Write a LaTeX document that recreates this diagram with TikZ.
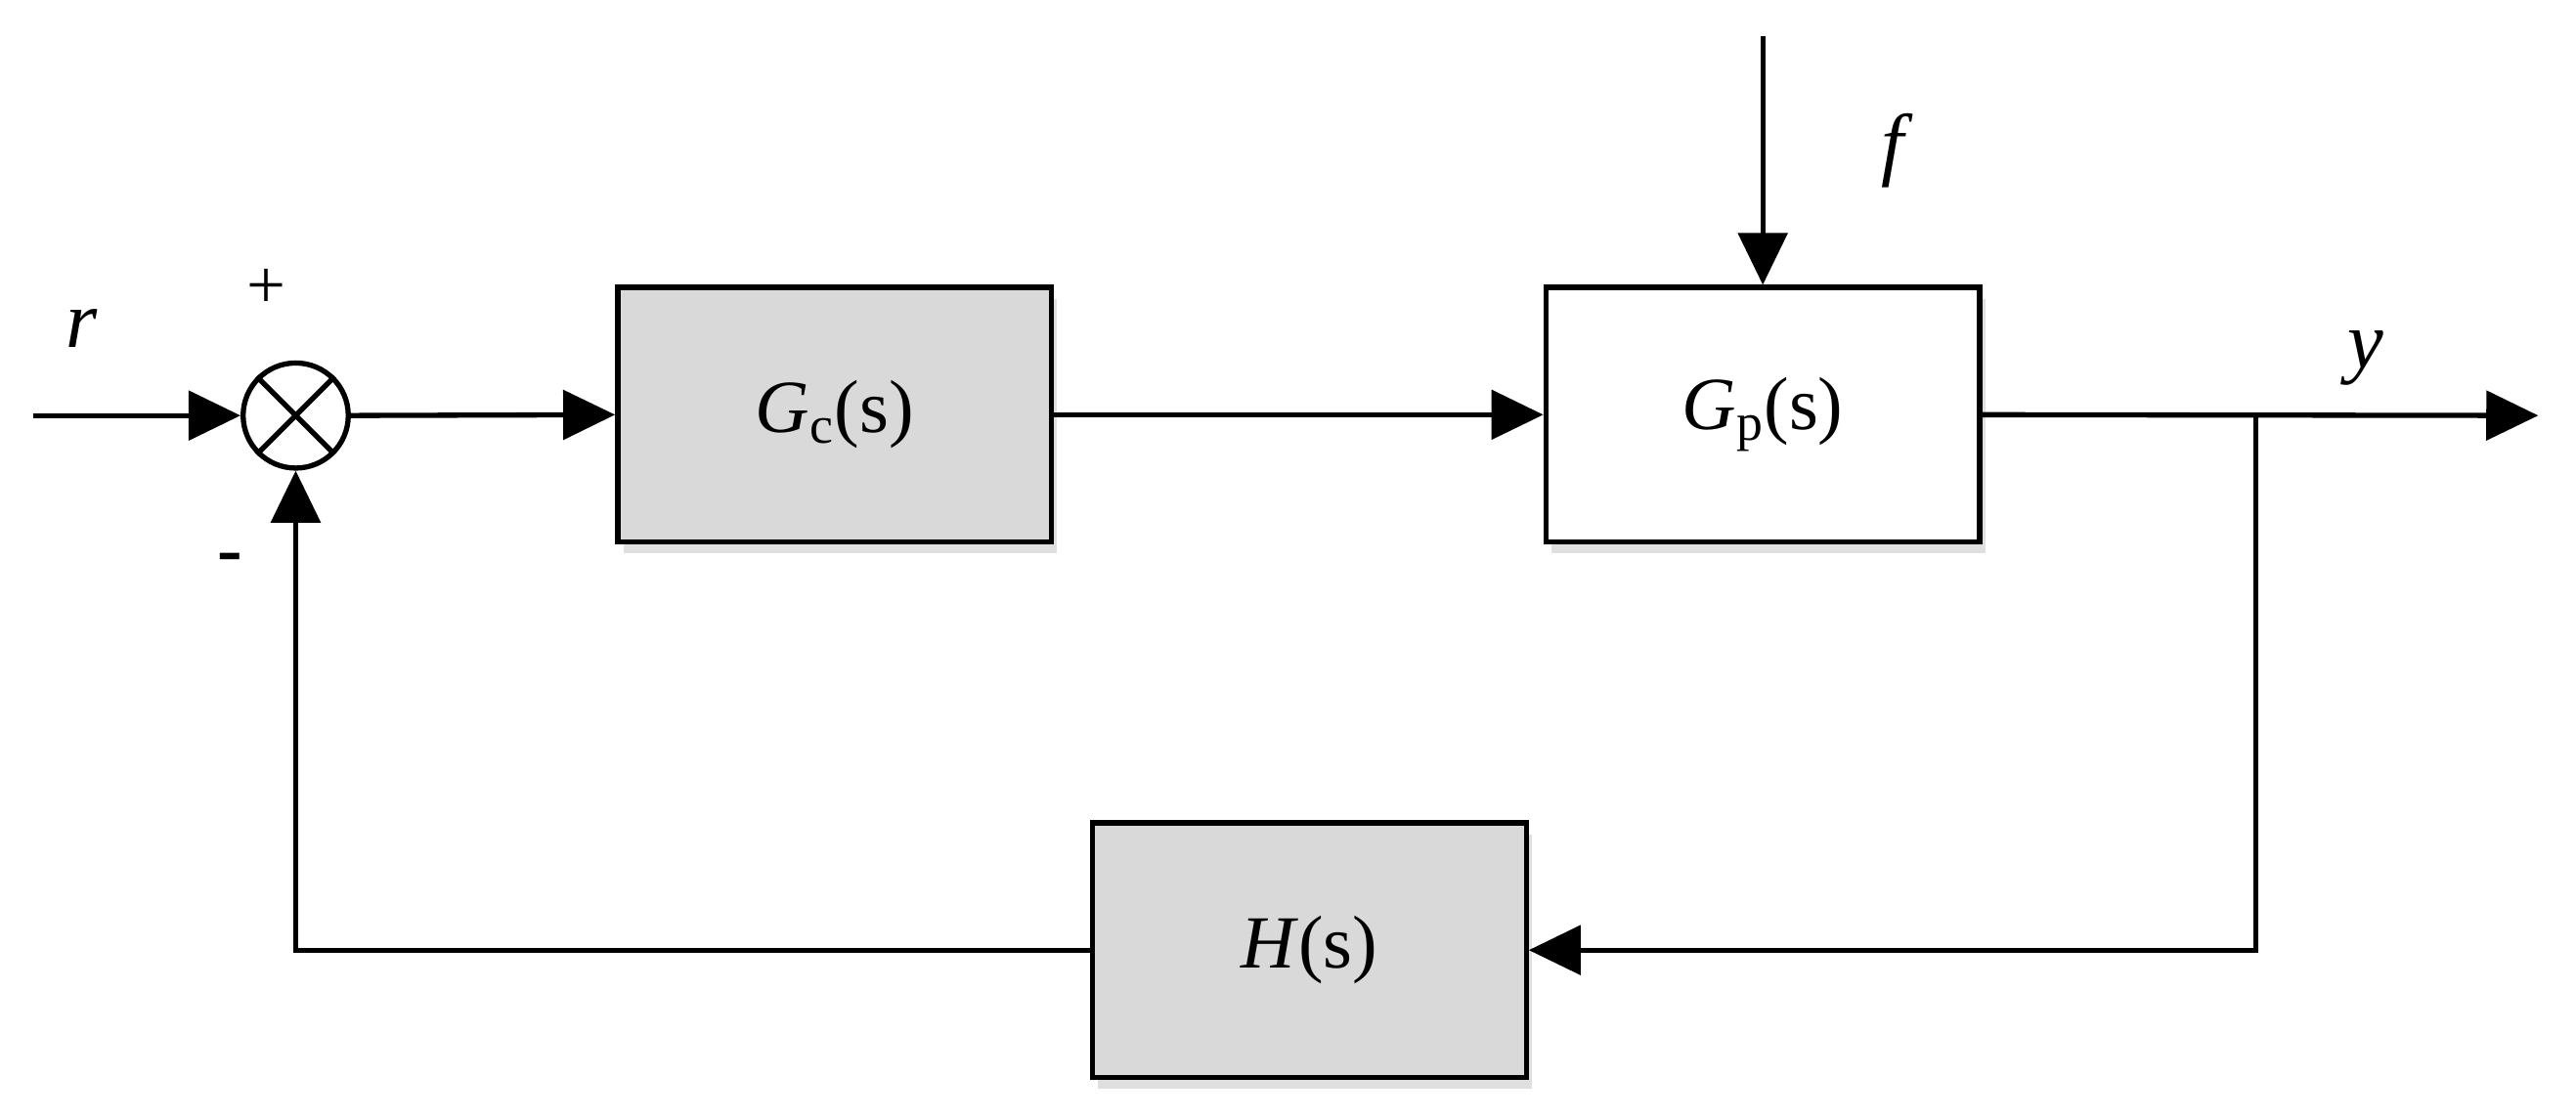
\documentclass[tikz,border=0pt]{standalone}
\usepackage{fontspec}
\setmainfont{Liberation Serif}
\usetikzlibrary{arrows.meta,shadows}
\begin{document}
\begin{tikzpicture}[x=0.02cm,y=-0.02cm,
  line width=1.8pt,
  arr/.style={-{Triangle[length=18pt,width=17pt]}},
  blk/.style={draw,minimum width=264*0.02cm,minimum height=155*0.02cm,inner sep=0pt,
     font=\fontsize{26}{30}\selectfont,drop shadow={opacity=0.25,shadow xshift=2pt,shadow yshift=-4pt}},
  lbl/.style={font=\fontsize{28}{32}\selectfont\itshape}]
\useasboundingbox (0,0) rectangle (1568,681);
\node[blk,fill=gray!30] (gc) at (508,252.5) {\textit{G}\textsubscript{c}(s)};
\node[blk,fill=white] (gp) at (1073,252.5) {\textit{G}\textsubscript{p}(s)};
\node[blk,fill=gray!30] (h) at (797,578.5) {\textit{H}(s)};
\node[draw,circle,minimum size=64*0.02cm,inner sep=0pt,fill=white] (s) at (180,253) {};
\draw (s.45)--(s.225) (s.135)--(s.315);
\coordinate (in) at (20,253);
\coordinate (out) at (1545,253);
\coordinate (br) at (1373,253);
\coordinate (ftop) at (1073,22);
\node[lbl] at (50,200) {r};
\node[lbl] at (1440,218) {y};
\node[lbl] at (1152,92) {f};
\node[font=\fontsize{24}{28}\selectfont] at (162,176) {+};
\node[font=\fontsize{26}{30}\selectfont\bfseries] at (140,343) {-};
\draw[arr] (in)--(s.west);
\draw[arr] (s.east)--(gc.west);
\draw[arr] (gc.east)--(gp.west);
\draw[arr] (gp.east)--(out);
\draw[arr] (ftop)--(gp.north);
\draw[arr] (br)|-(h.east);
\draw[arr] (h.west)-|(s.south);
\end{tikzpicture}
\end{document}
